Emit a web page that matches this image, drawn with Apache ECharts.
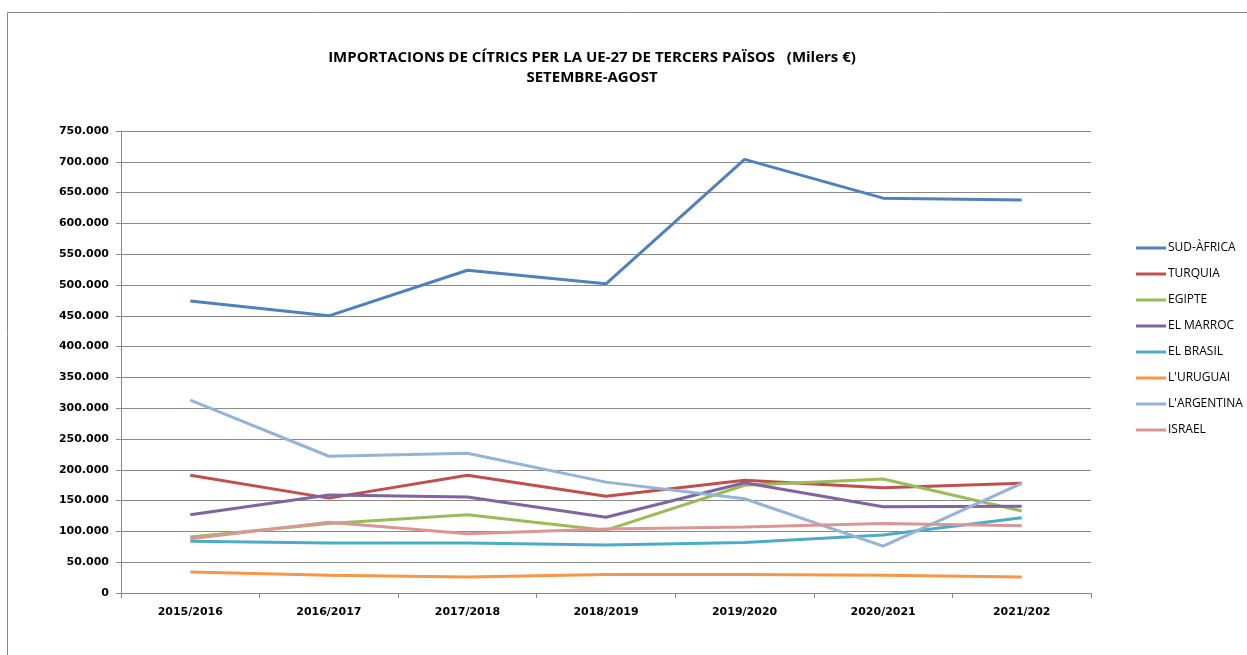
<!DOCTYPE html>
<html>
<head>
<meta charset="utf-8">
<script src="https://cdn.jsdelivr.net/npm/echarts@6/dist/echarts.min.js"></script>
<style>
  html, body { margin: 0; padding: 0; background: #fff; }
  #main { width: 1247px; height: 655px; }
</style>
</head>
<body>
<div id="main"></div>
<script>
var campanyes = ['2015/2016', '2016/2017', '2017/2018', '2018/2019', '2019/2020', '2020/2021', '2021/202'];

var sudAfrica = [474000, 450000, 524000, 502000, 704000, 641000, 638000];
var turquia = [191000, 154000, 191000, 157000, 183000, 171000, 178000];
var egipte = [91000, 113000, 127000, 102000, 175000, 185000, 133000];
var marroc = [127000, 159000, 156000, 123000, 179000, 140000, 141000];
var brasil = [84000, 81000, 81000, 78000, 82000, 94000, 122000];
var uruguai = [34000, 29000, 26000, 30000, 30000, 29000, 26000];
var argentina = [313000, 222000, 227000, 180000, 153000, 76000, 178000];
var israel = [88000, 115000, 96000, 104000, 107000, 113000, 109000];

var noms = ['SUD-ÀFRICA', 'TURQUIA', 'EGIPTE', 'EL MARROC', 'EL BRASIL', "L'URUGUAI", "L'ARGENTINA", 'ISRAEL'];
var dades = [sudAfrica, turquia, egipte, marroc, brasil, uruguai, argentina, israel];
var colors = ['#4F81BD', '#C0504D', '#9BBB59', '#8064A2', '#4BACC6', '#F79646', '#95B3D7', '#D99694'];

var chart = echarts.init(document.getElementById('main'));

function fmt(v) {
  return String(v).replace(/\B(?=(\d{3})+(?!\d))/g, '.');
}

var series = noms.map(function (n, i) {
  return {
    name: n,
    type: 'line',
    data: dades[i],
    symbol: 'none',
    lineStyle: { width: 3, color: colors[i] },
    itemStyle: { color: colors[i] }
  };
});

var option = {
  animation: false,
  backgroundColor: '#fff',
  textStyle: { fontFamily: 'Open Sans, Liberation Sans, sans-serif' },
  graphic: [{
    type: 'rect',
    shape: { x: 7.5, y: 12.5, width: 1260, height: 660 },
    style: { fill: 'none', stroke: '#8a8a8a', lineWidth: 1 },
    silent: true
  }],
  title: {
    text: 'IMPORTACIONS DE CÍTRICS PER LA UE-27 DE TERCERS PAÏSOS   (Milers €)\nSETEMBRE-AGOST',
    left: 587,
    textAlign: 'center',
    top: 43,
    textStyle: { fontSize: 15, fontWeight: 'bold', color: '#000', lineHeight: 20, fontFamily: 'Open Sans, sans-serif' }
  },
  legend: {
    orient: 'vertical',
    left: 1131,
    top: 234,
    itemGap: 8,
    itemWidth: 30,
    itemHeight: 3,
    icon: 'rect',
    data: noms,
    textStyle: { fontSize: 12, color: '#000', lineHeight: 18, padding: [0, 0, 0, -3] }
  },
  grid: { left: 121, right: 156, top: 131, bottom: 62 },
  xAxis: {
    type: 'category',
    data: campanyes,
    boundaryGap: true,
    axisLine: { lineStyle: { color: '#8a8a8a', width: 1 } },
    axisTick: { show: true, length: 5, lineStyle: { color: '#8a8a8a' } },
    axisLabel: { color: '#000', fontWeight: 'bold', fontSize: 11, margin: 14, fontFamily: 'DejaVu Sans' }
  },
  yAxis: {
    type: 'value',
    min: 0,
    max: 750000,
    interval: 50000,
    axisLine: { show: true, lineStyle: { color: '#8a8a8a', width: 1 } },
    axisTick: { show: true, length: 5, inside: false, lineStyle: { color: '#8a8a8a' } },
    splitLine: { lineStyle: { color: '#8a8a8a', width: 1 } },
    axisLabel: { color: '#000', fontWeight: 'bold', fontSize: 11, margin: 12, formatter: fmt, fontFamily: 'DejaVu Sans' }
  },
  series: series
};

chart.setOption(option);
</script>
</body>
</html>
